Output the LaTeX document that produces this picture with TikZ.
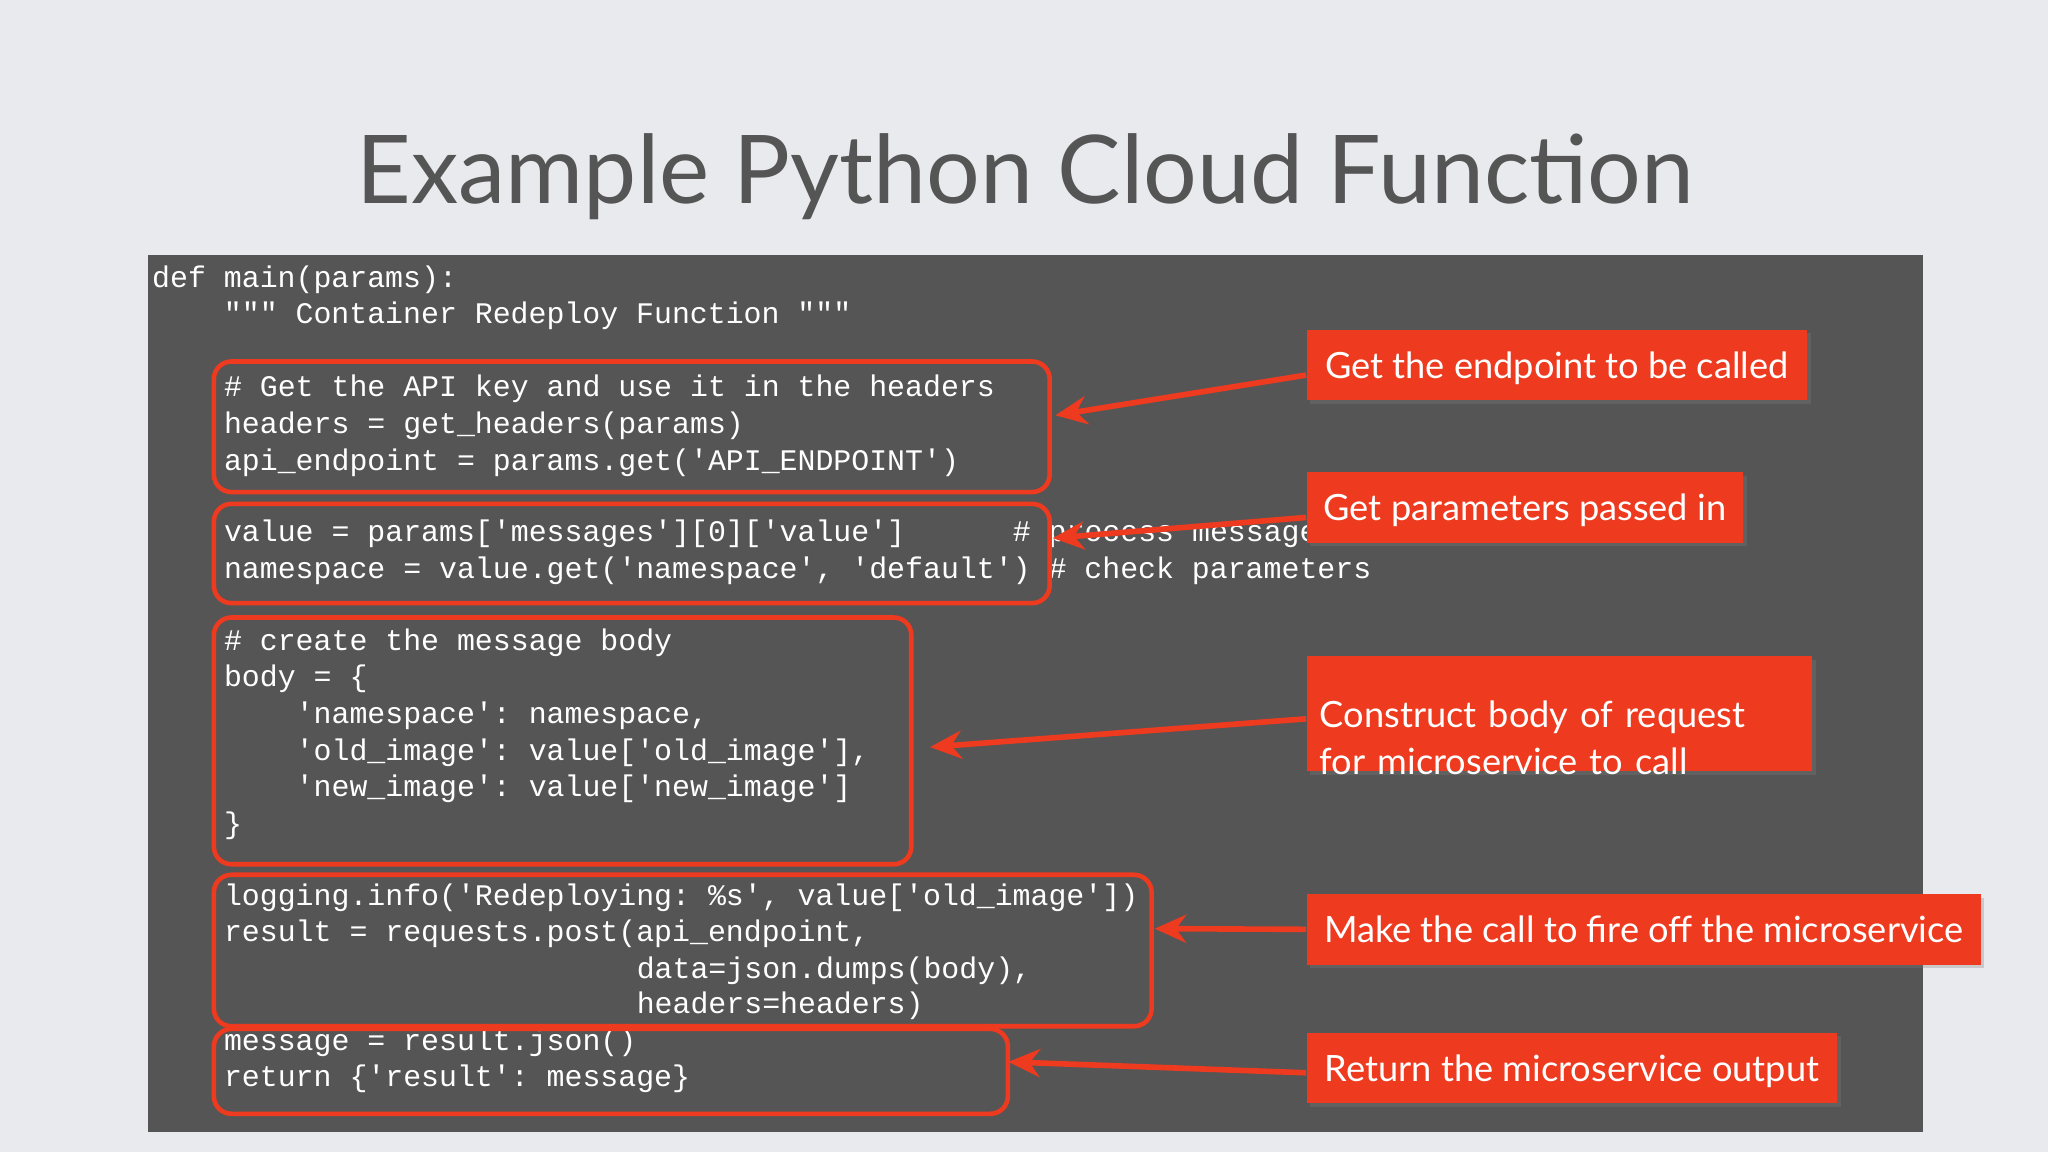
\documentclass[tikz,border=0pt]{standalone}
\usepackage{fontspec}
\setmainfont{Lato}
\setmonofont{Liberation Mono}
\usetikzlibrary{arrows.meta,shadows}
\definecolor{bg}{HTML}{E9EAEE}
\definecolor{panel}{HTML}{555555}
\definecolor{hl}{HTML}{EE3A1F}
\definecolor{ttl}{HTML}{555555}
\begin{document}
\begin{tikzpicture}[x=0.01306cm,y=-0.01306cm,
  code/.style={anchor=west,inner sep=0pt,text=white,font=\ttfamily\fontsize{8.5pt}{10pt}\selectfont},
  box/.style={draw=hl,line width=1.3pt,rounded corners=5pt,anchor=north west,inner sep=0pt},
  lab/.style={fill=hl,anchor=north west,inner xsep=0.13cm,inner ysep=0pt,text=white,font=\fontsize{10.3pt}{13.4pt}\selectfont,align=left,minimum width=#1,text depth=0pt,drop shadow={shadow xshift=1pt,shadow yshift=-1pt,opacity=0.3}},
  arr/.style={draw=hl,line width=1.6pt,-{Stealth[length=9pt,width=8pt]}}]
\fill[bg] (0,0) rectangle (1568,882);
\useasboundingbox (0,0) rectangle (1568,882);
\node[text=ttl,font=\fontsize{27pt}{32pt}\selectfont] (title) at (785,135) {Example Python Cloud Function};
\fill[panel] (113,195) rectangle (1472,867);
% code
\node[code] (c1) at (116,214) {def main(params):};
\node[code] (c2) at (116,242) {\ \ \ \ """ Container Redeploy Function """};
\node[code] (c3) at (171,298) {\# Get the API key and use it in the headers};
\node[code] (c4) at (171,326) {headers = get\_headers(params)};
\node[code] (c5) at (171,354) {api\_endpoint = params.get('API\_ENDPOINT')};
\node[code] (c6) at (171,409) {value = params['messages'][0]['value']\ \ \ \ \ \ \# process message};
\node[code] (c7) at (171,437) {namespace = value.get('namespace', 'default') \# check parameters};
\node[code] (c8) at (171,492) {\# create the message body};
\node[code] (c9) at (171,520) {body = \{};
\node[code] (c10) at (171,548) {\ \ \ \ 'namespace': namespace,};
\node[code] (c11) at (171,576) {\ \ \ \ 'old\_image': value['old\_image'],};
\node[code] (c12) at (171,604) {\ \ \ \ 'new\_image': value['new\_image']};
\node[code] (c13) at (171,632) {\}};
\node[code] (c14) at (171,687) {logging.info('Redeploying: \%s', value['old\_image'])};
\node[code] (c15) at (171,715) {result = requests.post(api\_endpoint,};
\node[code] (c16) at (487,743) {data=json.dumps(body),};
\node[code] (c17) at (487,770) {headers=headers)};
\node[code] (c18) at (171,798) {message = result.json()};
\node[code] (c19) at (171,826) {return \{'result': message\}};
% boxes
\node[box,minimum width=8.358cm,minimum height=1.306cm] (b1) at (162,275) {};
\node[box,minimum width=8.358cm,minimum height=0.993cm] (b2) at (162,384) {};
\node[box,minimum width=6.974cm,minimum height=2.468cm] (b3) at (162,471) {};
\node[box,minimum width=9.377cm,minimum height=1.515cm] (b4) at (162,668) {};
\node[box,minimum width=7.940cm,minimum height=0.849cm] (b5) at (162,786) {};
% labels
\node[lab=5.002cm,minimum height=0.705cm] (l1) at (1000,252) {Get the endpoint to be called};
\node[lab=4.362cm,minimum height=0.705cm] (l2) at (1000,361) {Get parameters passed in};
\node[lab=5.054cm,minimum height=1.149cm,text width=4.794cm] (l3) at (1000,502) {Construct body of request\\for microservice to call};
\node[lab=6.739cm,minimum height=0.705cm] (l4) at (1000,684) {Make the call to fire off the microservice};
\node[lab=5.302cm,minimum height=0.705cm] (l5) at (1000,790) {Return the microservice output};
% arrows
\coordinate (a1) at (808,318);
\coordinate (a2) at (806,412);
\coordinate (a3) at (712,572);
\coordinate (a4) at (884,711);
\coordinate (a5) at (772,813);
\draw[arr] ([yshift=-0.1cm]l1.west) -- (a1);
\draw[arr] ([yshift=-0.1cm]l2.west) -- (a2);
\draw[arr] ([yshift=-0.05cm]l3.west) -- (a3);
\draw[arr] (l4.west) -- (a4);
\draw[arr] ([yshift=-0.05cm]l5.west) -- (a5);
\end{tikzpicture}
\end{document}
